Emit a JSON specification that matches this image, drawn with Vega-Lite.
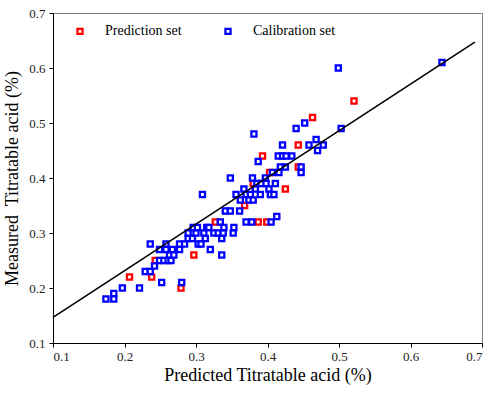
{
  "$schema": "https://vega.github.io/schema/vega-lite/v6.json",
  "width": 429,
  "height": 330,
  "autosize": "none",
  "padding": {"left": 53, "top": 13, "right": 16, "bottom": 51},
  "background": "white",
  "config": {
    "font": "Liberation Serif",
    "view": {"stroke": "#808080", "strokeWidth": 1},
    "axis": {
      "grid": false,
      "domainColor": "black",
      "domainWidth": 1,
      "tickColor": "black",
      "tickSize": 4,
      "labelFont": "Liberation Serif",
      "labelFontSize": 13,
      "labelColor": "#222",
      "titleFont": "Liberation Serif",
      "titleFontSize": 18,
      "titleFontWeight": "normal",
      "titleColor": "black"
    }
  },
  "layer": [
    {
      "data": {
        "values": [
          {"x": 0.207, "y": 0.22, "set": "Prediction set"},
          {"x": 0.238, "y": 0.22, "set": "Prediction set"},
          {"x": 0.243, "y": 0.25, "set": "Prediction set"},
          {"x": 0.279, "y": 0.20, "set": "Prediction set"},
          {"x": 0.297, "y": 0.26, "set": "Prediction set"},
          {"x": 0.327, "y": 0.32, "set": "Prediction set"},
          {"x": 0.368, "y": 0.35, "set": "Prediction set"},
          {"x": 0.380, "y": 0.39, "set": "Prediction set"},
          {"x": 0.387, "y": 0.32, "set": "Prediction set"},
          {"x": 0.393, "y": 0.44, "set": "Prediction set"},
          {"x": 0.399, "y": 0.32, "set": "Prediction set"},
          {"x": 0.403, "y": 0.41, "set": "Prediction set"},
          {"x": 0.425, "y": 0.38, "set": "Prediction set"},
          {"x": 0.443, "y": 0.42, "set": "Prediction set"},
          {"x": 0.443, "y": 0.46, "set": "Prediction set"},
          {"x": 0.463, "y": 0.51, "set": "Prediction set"},
          {"x": 0.521, "y": 0.54, "set": "Prediction set"},
          {"x": 0.174, "y": 0.18, "set": "Calibration set"},
          {"x": 0.185, "y": 0.19, "set": "Calibration set"},
          {"x": 0.185, "y": 0.18, "set": "Calibration set"},
          {"x": 0.197, "y": 0.20, "set": "Calibration set"},
          {"x": 0.221, "y": 0.20, "set": "Calibration set"},
          {"x": 0.229, "y": 0.23, "set": "Calibration set"},
          {"x": 0.236, "y": 0.23, "set": "Calibration set"},
          {"x": 0.236, "y": 0.28, "set": "Calibration set"},
          {"x": 0.242, "y": 0.24, "set": "Calibration set"},
          {"x": 0.249, "y": 0.25, "set": "Calibration set"},
          {"x": 0.249, "y": 0.27, "set": "Calibration set"},
          {"x": 0.252, "y": 0.21, "set": "Calibration set"},
          {"x": 0.255, "y": 0.25, "set": "Calibration set"},
          {"x": 0.258, "y": 0.28, "set": "Calibration set"},
          {"x": 0.258, "y": 0.27, "set": "Calibration set"},
          {"x": 0.261, "y": 0.25, "set": "Calibration set"},
          {"x": 0.263, "y": 0.26, "set": "Calibration set"},
          {"x": 0.265, "y": 0.25, "set": "Calibration set"},
          {"x": 0.267, "y": 0.27, "set": "Calibration set"},
          {"x": 0.269, "y": 0.26, "set": "Calibration set"},
          {"x": 0.277, "y": 0.27, "set": "Calibration set"},
          {"x": 0.277, "y": 0.28, "set": "Calibration set"},
          {"x": 0.280, "y": 0.21, "set": "Calibration set"},
          {"x": 0.284, "y": 0.28, "set": "Calibration set"},
          {"x": 0.289, "y": 0.29, "set": "Calibration set"},
          {"x": 0.289, "y": 0.30, "set": "Calibration set"},
          {"x": 0.295, "y": 0.29, "set": "Calibration set"},
          {"x": 0.296, "y": 0.31, "set": "Calibration set"},
          {"x": 0.300, "y": 0.30, "set": "Calibration set"},
          {"x": 0.302, "y": 0.31, "set": "Calibration set"},
          {"x": 0.303, "y": 0.28, "set": "Calibration set"},
          {"x": 0.307, "y": 0.28, "set": "Calibration set"},
          {"x": 0.309, "y": 0.37, "set": "Calibration set"},
          {"x": 0.311, "y": 0.30, "set": "Calibration set"},
          {"x": 0.313, "y": 0.29, "set": "Calibration set"},
          {"x": 0.315, "y": 0.31, "set": "Calibration set"},
          {"x": 0.318, "y": 0.31, "set": "Calibration set"},
          {"x": 0.320, "y": 0.27, "set": "Calibration set"},
          {"x": 0.325, "y": 0.30, "set": "Calibration set"},
          {"x": 0.331, "y": 0.30, "set": "Calibration set"},
          {"x": 0.334, "y": 0.32, "set": "Calibration set"},
          {"x": 0.336, "y": 0.29, "set": "Calibration set"},
          {"x": 0.336, "y": 0.26, "set": "Calibration set"},
          {"x": 0.338, "y": 0.30, "set": "Calibration set"},
          {"x": 0.339, "y": 0.31, "set": "Calibration set"},
          {"x": 0.341, "y": 0.34, "set": "Calibration set"},
          {"x": 0.348, "y": 0.34, "set": "Calibration set"},
          {"x": 0.348, "y": 0.40, "set": "Calibration set"},
          {"x": 0.352, "y": 0.30, "set": "Calibration set"},
          {"x": 0.353, "y": 0.31, "set": "Calibration set"},
          {"x": 0.356, "y": 0.37, "set": "Calibration set"},
          {"x": 0.361, "y": 0.34, "set": "Calibration set"},
          {"x": 0.362, "y": 0.36, "set": "Calibration set"},
          {"x": 0.367, "y": 0.38, "set": "Calibration set"},
          {"x": 0.370, "y": 0.32, "set": "Calibration set"},
          {"x": 0.370, "y": 0.37, "set": "Calibration set"},
          {"x": 0.374, "y": 0.36, "set": "Calibration set"},
          {"x": 0.376, "y": 0.37, "set": "Calibration set"},
          {"x": 0.378, "y": 0.32, "set": "Calibration set"},
          {"x": 0.379, "y": 0.40, "set": "Calibration set"},
          {"x": 0.380, "y": 0.36, "set": "Calibration set"},
          {"x": 0.381, "y": 0.48, "set": "Calibration set"},
          {"x": 0.383, "y": 0.38, "set": "Calibration set"},
          {"x": 0.385, "y": 0.39, "set": "Calibration set"},
          {"x": 0.387, "y": 0.43, "set": "Calibration set"},
          {"x": 0.390, "y": 0.37, "set": "Calibration set"},
          {"x": 0.391, "y": 0.39, "set": "Calibration set"},
          {"x": 0.397, "y": 0.40, "set": "Calibration set"},
          {"x": 0.398, "y": 0.39, "set": "Calibration set"},
          {"x": 0.402, "y": 0.38, "set": "Calibration set"},
          {"x": 0.404, "y": 0.37, "set": "Calibration set"},
          {"x": 0.405, "y": 0.32, "set": "Calibration set"},
          {"x": 0.407, "y": 0.41, "set": "Calibration set"},
          {"x": 0.409, "y": 0.37, "set": "Calibration set"},
          {"x": 0.411, "y": 0.39, "set": "Calibration set"},
          {"x": 0.413, "y": 0.33, "set": "Calibration set"},
          {"x": 0.415, "y": 0.44, "set": "Calibration set"},
          {"x": 0.416, "y": 0.41, "set": "Calibration set"},
          {"x": 0.418, "y": 0.42, "set": "Calibration set"},
          {"x": 0.421, "y": 0.46, "set": "Calibration set"},
          {"x": 0.421, "y": 0.44, "set": "Calibration set"},
          {"x": 0.425, "y": 0.42, "set": "Calibration set"},
          {"x": 0.426, "y": 0.44, "set": "Calibration set"},
          {"x": 0.434, "y": 0.44, "set": "Calibration set"},
          {"x": 0.440, "y": 0.49, "set": "Calibration set"},
          {"x": 0.447, "y": 0.42, "set": "Calibration set"},
          {"x": 0.447, "y": 0.41, "set": "Calibration set"},
          {"x": 0.452, "y": 0.50, "set": "Calibration set"},
          {"x": 0.458, "y": 0.46, "set": "Calibration set"},
          {"x": 0.468, "y": 0.47, "set": "Calibration set"},
          {"x": 0.470, "y": 0.45, "set": "Calibration set"},
          {"x": 0.478, "y": 0.46, "set": "Calibration set"},
          {"x": 0.499, "y": 0.60, "set": "Calibration set"},
          {"x": 0.503, "y": 0.49, "set": "Calibration set"},
          {"x": 0.644, "y": 0.61, "set": "Calibration set"}
        ]
      },
      "mark": {"type": "point", "shape": "square", "filled": false, "fill": "white", "fillOpacity": 1, "size": 26, "strokeWidth": 2.3, "opacity": 1},
      "encoding": {
        "x": {
          "field": "x", "type": "quantitative",
          "scale": {"domain": [0.1, 0.7], "nice": false, "zero": false},
          "axis": {"values": [0.1, 0.2, 0.3, 0.4, 0.5, 0.6, 0.7], "format": ".1f", "title": "Predicted Titratable acid (%)", "labelFont": "Liberation Serif", "labelFontSize": 13, "labelPadding": 3, "titlePadding": 3}
        },
        "y": {
          "field": "y", "type": "quantitative",
          "scale": {"domain": [0.1, 0.7], "nice": false, "zero": false},
          "axis": {"values": [0.1, 0.2, 0.3, 0.4, 0.5, 0.6, 0.7], "format": ".1f", "title": "Measured\u00a0 Titratable acid (%)", "labelFont": "Liberation Serif", "labelFontSize": 13, "labelPadding": 4, "titlePadding": 7}
        },
        "stroke": {
          "field": "set", "type": "nominal",
          "scale": {"domain": ["Prediction set", "Calibration set"], "range": ["#ff0000", "#0000ff"]},
          "legend": {
            "title": null,
            "orient": "none",
            "legendX": 20,
            "legendY": 11,
            "direction": "horizontal",
            "padding": 0,
            "symbolType": "square",
            "symbolSize": 26,
            "symbolStrokeWidth": 2.3,
            "symbolFillColor": "white",
            "labelFont": "Liberation Serif",
            "labelFontSize": 14,
            "labelColor": "black",
            "labelOffset": 18,
            "columnPadding": 38
          }
        }
      }
    },
    {
      "data": {"values": [{"x": 0.1, "y": 0.1467}, {"x": 0.69, "y": 0.647}]},
      "mark": {"type": "line", "color": "black", "strokeWidth": 1.6},
      "encoding": {
        "x": {"field": "x", "type": "quantitative"},
        "y": {"field": "y", "type": "quantitative"}
      }
    }
  ]
}
